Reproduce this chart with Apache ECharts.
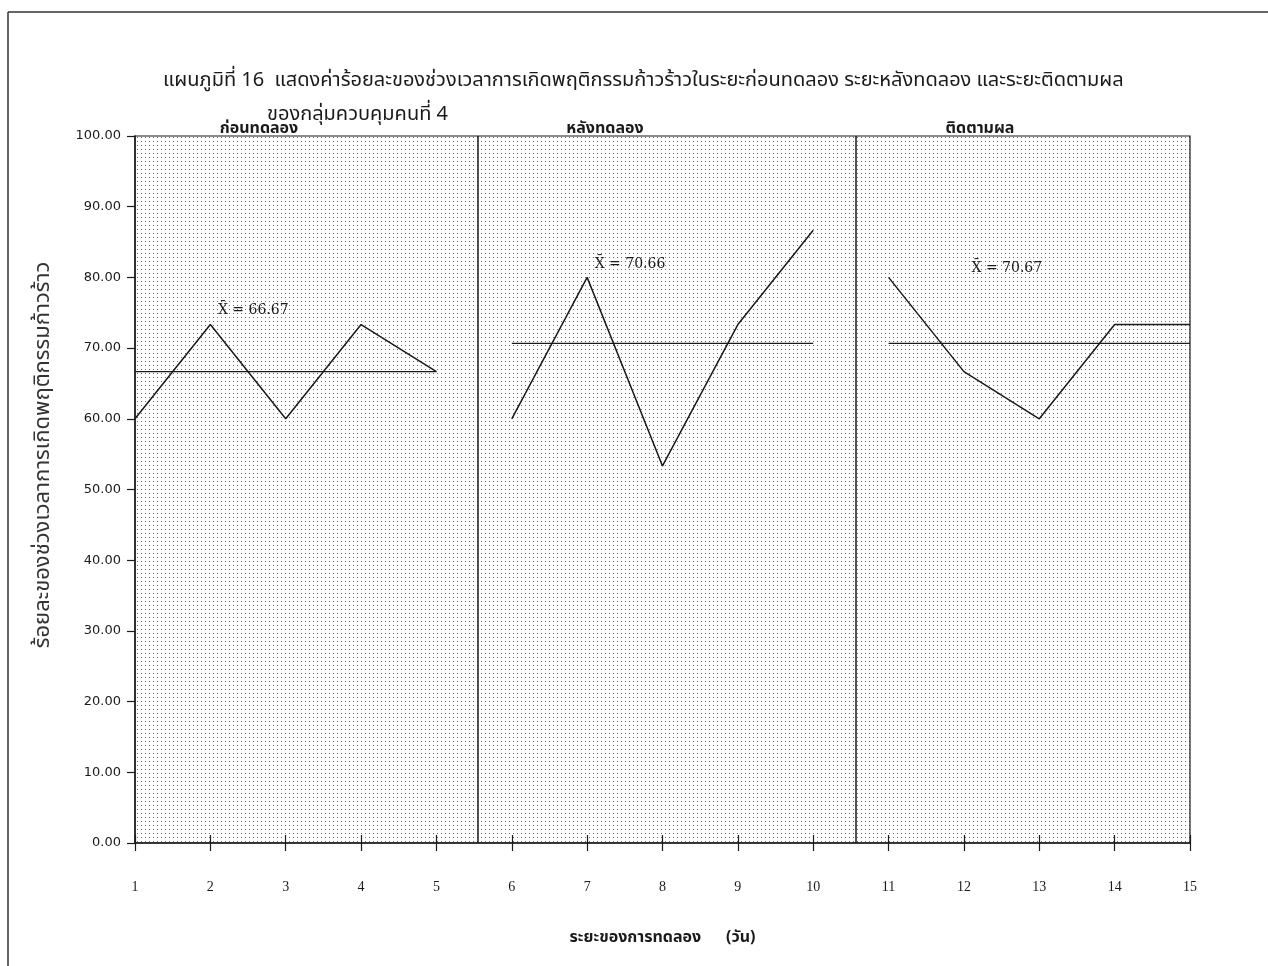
<!DOCTYPE html>
<html>
<head>
<meta charset="utf-8">
<style>
  html, body { margin: 0; padding: 0; background: #fff; }
  #chart { width: 1268px; height: 966px; }
</style>
<script src="https://cdn.jsdelivr.net/npm/echarts@6/dist/echarts.min.js"></script>
</head>
<body>
<div id="chart"></div>
<script>
// data
const phaseNames = ['ก่อนทดลอง', 'หลังทดลอง', 'ติดตามผล']
const phase1Days = [1, 2, 3, 4, 5]
const phase1Values = [60, 73.33, 60, 73.33, 66.67]
const phase2Days = [6, 7, 8, 9, 10]
const phase2Values = [60, 80, 53.33, 73.33, 86.67]
const phase3Days = [11, 12, 13, 14, 15]
const phase3Values = [80, 66.67, 60, 73.33, 73.33]
const meanValues = [66.67, 70.66, 70.67]
const meanLabelPos = [[2.1, 75.4], [7.1, 81.9], [12.1, 81.3]]
const phaseDividers = [5.55, 10.56]
const yTicks = [0, 10, 20, 30, 40, 50, 60, 70, 80, 90, 100]

const thai = '"Noto Sans Thai", "Noto Sans", "DejaVu Sans", sans-serif'
const ink = '#1a1a1a'

// dotted paper fill for the plot area
const dots = document.createElement('canvas')
dots.width = 4
dots.height = 4
const dctx = dots.getContext('2d')
dctx.fillStyle = '#6a6a6a'
dctx.fillRect(1, 1, 1, 1)

const phases = [
  { days: phase1Days, values: phase1Values },
  { days: phase2Days, values: phase2Values },
  { days: phase3Days, values: phase3Values }
]

const series = []
phases.forEach((p, i) => {
  series.push({
    name: phaseNames[i],
    type: 'line',
    data: p.days.map((d, k) => [d, p.values[k]]),
    symbol: 'none',
    lineStyle: { color: ink, width: 1.5 },
    z: 5,
    markPoint: {
      symbol: 'circle',
      symbolSize: 0,
      data: [{ coord: meanLabelPos[i], value: meanValues[i] }],
      label: {
        show: true,
        position: 'right',
        distance: 0,
        formatter: 'X\u0304 = ' + meanValues[i].toFixed(2),
        fontFamily: '"DejaVu Serif", serif',
        fontSize: 14,
        color: ink
      }
    }
  })
  // mean line across the phase
  series.push({
    type: 'line',
    data: [[p.days[0], meanValues[i]], [p.days[p.days.length - 1], meanValues[i]]],
    symbol: 'none',
    lineStyle: { color: ink, width: 1.2 },
    z: 4
  })
})

// phase dividers
series.push({
  type: 'line',
  data: [],
  markLine: {
    silent: true,
    symbol: 'none',
    label: { show: false },
    lineStyle: { color: ink, width: 1.5, type: 'solid' },
    data: phaseDividers.map(x => ({ xAxis: x }))
  }
})

const phaseTitle = (text, x) => ({
  text: text, left: x, top: 117, textAlign: 'center',
  textStyle: { fontFamily: thai, fontSize: 16, fontWeight: 'bold', color: ink }
})

const chart = echarts.init(document.getElementById('chart'))
chart.setOption({
  animation: false,
  backgroundColor: '#fff',
  title: [
    {
      text: 'แผนภูมิที่ 16  แสดงค่าร้อยละของช่วงเวลาการเกิดพฤติกรรมก้าวร้าวในระยะก่อนทดลอง ระยะหลังทดลอง และระยะติดตามผล',
      left: 158, top: 67,
      textStyle: { fontFamily: thai, fontSize: 20, fontWeight: 'normal', color: ink }
    },
    {
      text: 'ของกลุ่มควบคุมคนที่ 4',
      left: 262, top: 101,
      textStyle: { fontFamily: thai, fontSize: 20, fontWeight: 'normal', color: ink }
    },
    phaseTitle(phaseNames[0], 254),
    phaseTitle(phaseNames[1], 600),
    phaseTitle(phaseNames[2], 975)
  ],
  graphic: [
    { type: 'line', shape: { x1: 8, y1: 12, x2: 1268, y2: 12 }, style: { stroke: '#333', lineWidth: 1.5 } },
    { type: 'line', shape: { x1: 8, y1: 12, x2: 8, y2: 966 }, style: { stroke: '#333', lineWidth: 1.5 } },
    {
      type: 'text',
      x: 45,
      y: 455,
      rotation: Math.PI / 2,
      style: {
        text: 'ร้อยละของช่วงเวลาการเกิดพฤติกรรมก้าวร้าว',
        font: '22px ' + thai,
        fill: '#333',
        align: 'center',
        verticalAlign: 'middle'
      }
    }
  ],
  grid: {
    left: 135,
    right: 78,
    top: 136,
    bottom: 123,
    show: true,
    borderColor: ink,
    borderWidth: 1.2,
    backgroundColor: { image: dots, repeat: 'repeat' }
  },
  xAxis: [
    {
      type: 'value',
      min: 1,
      max: 15,
      interval: 1,
      axisLine: { lineStyle: { color: ink, width: 1.5 } },
      axisTick: { length: 8, lineStyle: { color: ink, width: 1.2 } },
      splitLine: { show: false },
      axisLabel: {
        margin: 37,
        fontFamily: '"Liberation Serif", serif',
        fontSize: 14,
        color: ink
      },
      name: 'ระยะของการทดลอง      (วัน)',
      nameLocation: 'middle',
      nameGap: 88,
      nameTextStyle: { fontFamily: thai, fontSize: 16, fontWeight: 'bold', color: ink }
    },
    {
      type: 'value',
      position: 'bottom',
      min: 1,
      max: 15,
      interval: 1,
      axisLine: { show: false },
      axisTick: { inside: true, length: 8, lineStyle: { color: ink, width: 1.2 } },
      axisLabel: { show: false },
      splitLine: { show: false }
    }
  ],
  yAxis: {
    type: 'value',
    min: yTicks[0],
    max: yTicks[yTicks.length - 1],
    interval: 10,
    axisLine: { show: true, lineStyle: { color: ink, width: 1.5 } },
    axisTick: { show: true, length: 8, lineStyle: { color: ink, width: 1.2 } },
    splitLine: { show: false },
    axisLabel: {
      margin: 14,
      formatter: v => v.toFixed(2),
      fontFamily: '"DejaVu Sans", sans-serif',
      fontSize: 13,
      color: ink
    }
  },
  series: series
})
</script>
</body>
</html>
